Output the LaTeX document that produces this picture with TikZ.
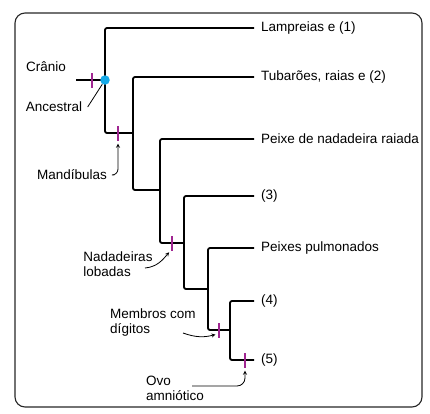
\documentclass[tikz,border=0pt]{standalone}
\usepackage{fontspec}
\setmainfont{Liberation Sans}
\definecolor{traitcol}{RGB}{160,38,145}
\definecolor{dotcol}{RGB}{22,170,232}
\tikzset{
    branch/.style={line width=1.8bp, rounded corners=2bp},
    leaf/.style={anchor=west, inner xsep=7bp, inner ysep=0pt},
    trait/.style={fill=traitcol, minimum width=2.8bp, minimum height=15bp, inner sep=0pt},
    ancdot/.style={circle, fill=dotcol, minimum size=9.5bp, inner sep=0pt},
    lbl/.style={align=left, inner sep=1bp},
    pointer/.style={->, line width=0.8bp, shorten >=2bp}
}

\begin{document}
\begin{tikzpicture}[x=1bp, y=-1bp, >=stealth, font=\fontsize{13.5bp}{15bp}\selectfont]
    \useasboundingbox (0,0) rectangle (430,414);
    % Frame
    \draw[line width=1.1bp, draw=black!85, rounded corners=10bp] (15,13) rectangle (422,407);
    % Branch points
    \coordinate (start) at (76,80);
    \coordinate (root) at (105,80);
    \coordinate (n2) at (133,133);
    \coordinate (n3) at (160,190);
    \coordinate (n4) at (184,243);
    \coordinate (n5) at (208,289);
    \coordinate (n6) at (230,330);
    % Leaves
    \node[leaf] (l1) at (254,28) {Lampreias e (1)};
    \node[leaf] (l2) at (254,77) {Tubarões, raias e (2)};
    \node[leaf] (l3) at (254,139) {Peixe de nadadeira raiada};
    \node[leaf] (l4) at (254,196) {(3)};
    \node[leaf] (l5) at (254,248) {Peixes pulmonados};
    \node[leaf] (l6) at (254,301) {(4)};
    \node[leaf] (l7) at (254,360) {(5)};
    % Tree
    \draw[branch] (start) -- (root);
    \draw[branch] (root) |- (l1);
    \draw[branch] (root) |- (n2);
    \draw[branch] (n2) |- (l2);
    \draw[branch] (n2) |- (n3);
    \draw[branch] (n3) |- (l3);
    \draw[branch] (n3) |- (n4);
    \draw[branch] (n4) |- (l4);
    \draw[branch] (n4) |- (n5);
    \draw[branch] (n5) |- (l5);
    \draw[branch] (n5) |- (n6);
    \draw[branch] (n6) |- (l6);
    \draw[branch] (n6) |- (l7);
    % Traits
    \node[trait] (t1) at (92,80) {};
    \node[trait] (t2) at (118,133) {};
    \node[trait] (t3) at (172,243) {};
    \node[trait] (t4) at (219,330) {};
    \node[trait] (t5) at (245,360) {};
    \node[ancdot] (anc) at (root) {};
    % Labels
    \node (cranL) at (46,67) {Crânio};
    \node (ancL) at (54,107) {Ancestral};
    \node (mandL) at (72,175) {Mandíbulas};
    \node[lbl] (nadL) at (118,264) {Nadadeiras\\lobadas};
    \node[lbl] (memL) at (153,323) {Membros com\\dígitos};
    \node[lbl] (ovoL) at (175,388) {Ovo\\amniótico};
    \coordinate (nadT) at (145,268);
    \coordinate (memT) at (183,333);
    \coordinate (ovoT) at (192,386);
    % Pointers
    \draw[line width=0.8bp] ([xshift=2bp]ancL.east) -- (anc);
    \draw[pointer, rounded corners=6bp, shorten >=3bp] ([xshift=4bp]mandL.east) -| (t2.south);
    \draw[pointer] (nadT) to[out=5, in=-130] (t3.south west);
    \draw[pointer] (memT) to[out=-20, in=195] ([yshift=-4bp]t4.west);
    \draw[pointer, rounded corners=8bp, shorten >=3bp] (ovoT) -| (t5.south);
\end{tikzpicture}
\end{document}
